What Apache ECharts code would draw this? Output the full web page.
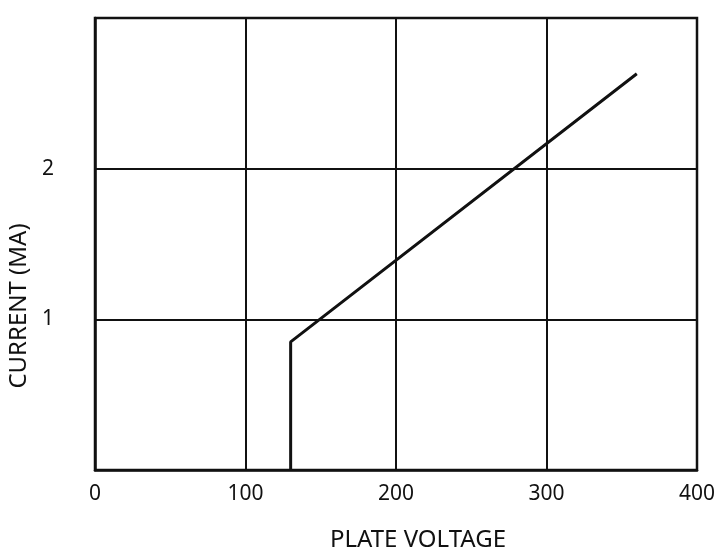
<!DOCTYPE html>
<html><head><meta charset="utf-8">
<script src="https://cdn.jsdelivr.net/npm/echarts@6/dist/echarts.min.js"></script>
<style>html,body{margin:0;padding:0;background:#fff}#c{width:714px;height:554px}</style>
</head><body><div id="c"></div>
<script>
var plateVoltage = [130, 130, 360];
var currentMA = [0, 0.85, 2.63];
var xTicks = [0, 100, 200, 300, 400];
var yTicks = [1, 2];

var chart = echarts.init(document.getElementById('c'));
var font = 'Noto Sans';
chart.setOption({
  animation: false,
  backgroundColor: '#fff',
  grid: {left: 95, right: 17, top: 18, bottom: 84, show: true, borderColor: '#111', borderWidth: 2.5,
    containLabel: false, outerBoundsMode: 'none'},
  xAxis: {
    type: 'value', min: 0, max: 400, interval: 100,
    name: 'PLATE VOLTAGE', nameLocation: 'middle', nameGap: 58,
    nameTextStyle: {fontFamily: font, fontSize: 24, color: '#111', padding: [0, 0, 0, 44]},
    axisLine: {show: true, lineStyle: {color: '#111', width: 2.5}},
    axisTick: {show: false},
    axisLabel: {fontFamily: font, fontSize: 21, color: '#111', margin: 14,
      formatter: function (v) { return xTicks.indexOf(v) >= 0 ? String(v) : ''; }},
    splitLine: {show: true, lineStyle: {color: '#111', width: 2}}
  },
  yAxis: {
    type: 'value', min: 0, max: 3, interval: 1,
    name: 'CURRENT (MA)', nameLocation: 'middle', nameGap: 60, nameRotate: 90,
    nameTextStyle: {fontFamily: font, fontSize: 24, color: '#111', padding: [0, 124, 0, 0]},
    axisLine: {show: true, lineStyle: {color: '#111', width: 2.5}},
    axisTick: {show: false},
    axisLabel: {fontFamily: font, fontSize: 21, color: '#111', margin: 41,
      formatter: function (v) { return yTicks.indexOf(v) >= 0 ? String(v) : ''; }},
    splitLine: {show: true, lineStyle: {color: '#111', width: 2}}
  },
  series: [{
    type: 'line',
    data: plateVoltage.map(function (v, i) { return [v, currentMA[i]]; }),
    showSymbol: false,
    lineStyle: {color: '#111', width: 3},
    z: 5
  }]
});
</script></body></html>
